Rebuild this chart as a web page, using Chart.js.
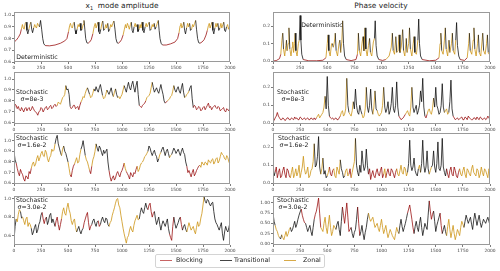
<!DOCTYPE html>
<html><head><meta charset="utf-8">
<script src="https://cdn.jsdelivr.net/npm/chart.js@4/dist/chart.umd.min.js"></script>
<style>
html,body{margin:0;padding:0;background:#fff;}
body{width:500px;height:271px;position:relative;overflow:hidden;font-family:"DejaVu Sans",sans-serif;}
canvas{position:absolute;}
.title{position:absolute;top:1px;font-size:7.4px;color:#222;white-space:nowrap;transform:translateX(-50%);}
.title sub{font-size:5px;}
#legendBox{position:absolute;left:155px;top:254px;width:168px;height:12px;border:1px solid #d4d4d4;border-radius:2px;}
.lgl{position:absolute;top:260px;height:0;border-top:1.2px solid;width:12px;}
.lgt{position:absolute;top:256px;font-size:6.3px;color:#222;white-space:nowrap;line-height:8px;}
</style></head><body>
<div class="title" style="left:122px">x<sub>1</sub>&nbsp; mode amplitude</div>
<div class="title" style="left:381px">Phase velocity</div>
<canvas id="c0"></canvas><canvas id="c1"></canvas>
<canvas id="c2"></canvas><canvas id="c3"></canvas>
<canvas id="c4"></canvas><canvas id="c5"></canvas>
<canvas id="c6"></canvas><canvas id="c7"></canvas>
<div id="legendBox"></div>
<div class="lgl" style="left:160px;border-color:#c86464"></div><div class="lgt" style="left:176px">Blocking</div>
<div class="lgl" style="left:220px;border-color:#444"></div><div class="lgt" style="left:234px">Transitional</div>
<div class="lgl" style="left:284px;border-color:#d8aa48"></div><div class="lgt" style="left:303px">Zonal</div>
<script>
// ---------- DATA ----------
const regimeNames = ['Blocking','Transitional','Zonal'];
const xTicks = [0,250,500,750,1000,1250,1500,1750,2000];

// Deterministic x1 amplitude
const ampDetT = [0,20,40,58,68,78,86,94,104,112,120,128,138,148,156,164,172,182,192,200,208,218,228,236,246,256,266,276,290,330,380,430,470,490,
505,515,523,531,540,550,558,566,574,584,594,603,612,620,630,640,648,656,664,674,686,700,715,
730,742,752,760,770,778,786,794,804,814,822,830,840,850,858,868,876,886,896,905,915,925,935,944,954,966,980,995,
1010,1022,1032,1040,1050,1058,1068,1078,1086,1094,1102,1112,1122,1130,1140,1148,1158,1168,1176,1186,1194,1204,1214,1224,1232,1242,1252,1260,1270,1280,1288,1298,1306,1316,1326,1336,1344,1352,1362,1375,1410,1450,1490,1515,
1528,1538,1546,1554,1564,1572,1580,1588,1598,1608,1616,1626,1634,1644,1654,1662,1672,1682,1690,1700,1710,1722,1740,1760,1778,
1790,1800,1808,1816,1826,1834,1842,1850,1860,1870,1878,1888,1896,1906,1916,1924,1934,1942,1950,1958,1968,1978,1986,1994,2000];
const ampDetV = [.77,.785,.81,.84,.88,.92,.89,.88,.93,.94,.87,.84,.88,.92,.94,.88,.85,.89,.92,.90,.89,.93,.91,.90,.955,.88,.80,.755,.74,.738,.745,.76,.78,.80,
.86,.91,.93,.90,.89,.93,.94,.87,.84,.88,.92,.90,.93,.87,.88,.92,.955,.88,.80,.765,.76,.77,.79,
.84,.90,.93,.89,.92,.94,.86,.84,.88,.93,.95,.87,.88,.92,.89,.93,.86,.88,.92,.90,.93,.95,.88,.80,.765,.76,.77,.79,
.83,.88,.92,.89,.93,.91,.88,.92,.94,.87,.85,.90,.93,.90,.92,.86,.88,.92,.89,.94,.87,.85,.90,.93,.90,.92,.94,.87,.88,.92,.90,.93,.88,.90,.93,.955,.87,.80,.76,.745,.745,.755,.77,.80,
.85,.91,.93,.89,.91,.94,.87,.84,.89,.93,.90,.93,.87,.88,.92,.90,.93,.955,.88,.80,.765,.76,.77,.79,.83,
.87,.91,.93,.89,.92,.94,.87,.84,.89,.93,.90,.93,.87,.89,.93,.89,.92,.94,.87,.86,.90,.92,.88,.90,.93];
const ampDetR = "BBBBZZZZZTTTZZTTTZZZZZZTTTTTBBBBBB"+"ZZZZZZTTTZZZTTZZTTTTBBB"+"ZZZZZTTTZZTTZZZTTZZZZTTTTBBB"+"ZZZZZZZZTTTZZZTTZZZTTTZZZZTTZZZTTZZTTTTBBBBB"+"ZZZZZTTTZZZTTZZZZTTTTBBBB"+"ZZZZZTTTZZZTTZZZZTTTZZZZZ";

// Deterministic phase velocity
const velDetT = [0,30,60,72,82,90,97,108,118,124,130,140,147,155,166,176,182,190,198,204,211,222,234,242,250,257,265,278,330,400,460,
488,500,508,515,527,540,548,556,566,574,582,595,608,616,624,634,642,650,660,675,720,765,
778,787,795,808,822,830,838,848,856,868,880,890,898,910,925,935,942,950,960,975,1010,
1040,1070,1090,1100,1108,1120,1132,1140,1152,1162,1170,1182,1195,1203,1215,1228,1236,1250,1258,1266,1280,1292,1300,1308,1322,1335,1343,1350,1360,1375,1440,1500,
1530,1540,1547,1555,1568,1580,1588,1596,1610,1622,1630,1645,1653,1661,1675,1684,1692,1700,1712,1725,1765,
1790,1803,1810,1818,1832,1845,1852,1860,1872,1885,1893,1901,1915,1926,1933,1941,1955,1968,1976,1984,1993,2000];
const velDetV = [.002,.004,.015,.04,.12,.16,.07,.03,.09,.12,.06,.10,.19,.07,.03,.08,.11,.05,.10,.16,.06,.03,.10,.12,.26,.12,.04,.01,.003,.003,.006,
.02,.10,.15,.06,.03,.10,.10,.08,.11,.16,.06,.03,.10,.12,.05,.11,.23,.10,.03,.01,.004,.01,
.04,.16,.06,.03,.11,.14,.06,.19,.07,.03,.09,.13,.05,.03,.11,.13,.23,.09,.03,.01,.005,
.01,.03,.08,.16,.06,.04,.14,.05,.06,.15,.05,.08,.18,.06,.03,.13,.05,.10,.19,.07,.03,.10,.14,.05,.04,.12,.24,.10,.03,.01,.003,.006,
.02,.10,.16,.06,.04,.12,.19,.07,.03,.12,.05,.10,.16,.06,.04,.12,.22,.09,.03,.01,.005,
.02,.10,.16,.06,.04,.12,.19,.07,.03,.10,.15,.05,.03,.11,.16,.06,.04,.10,.15,.05,.04,.10];
const velDetR = "BBBZZTZZZTZZTZZZZZZTZZZTTTTBBBB"+"ZZTZZZTZZTZZZTZZTTTBBB"+"ZTZZZTZTZZZTZZZTTTTBB"+"ZZZTZZTZZTZZTZZTZZTZZZTZZTTTTBBB"+"ZZTZZZTZZTZZTZZTTTTBB"+"ZZTZZZTZZZTZZZTZZZTZZZ";

// Stochastic runs: main samples and in-between samples
const timeGrid = [0,20,40,60,80,100,120,140,160,180,200,220,240,260,280,300,320,340,360,380,
400,420,440,460,480,500,520,540,560,580,600,620,640,660,680,700,720,740,760,780,
800,820,840,860,880,900,920,940,960,980,1000,1020,1040,1060,1080,1100,1120,1140,1160,1180,
1200,1220,1240,1260,1280,1300,1320,1340,1360,1380,1400,1420,1440,1460,1480,1500,1520,1540,1560,1580,
1600,1620,1640,1660,1680,1700,1720,1740,1760,1780,1800,1820,1840,1860,1880,1900,1920,1940,1960,1980,2000];
const timeMid = [10,30,50,70,90,110,130,150,170,190,210,230,250,270,290,310,330,350,370,390,
410,430,450,470,490,510,530,550,570,590,610,630,650,670,690,710,730,750,770,790,
810,830,850,870,890,910,930,950,970,990,1010,1030,1050,1070,1090,1110,1130,1150,1170,1190,
1210,1230,1250,1270,1290,1310,1330,1350,1370,1390,1410,1430,1450,1470,1490,1510,1530,1550,1570,1590,
1610,1630,1650,1670,1690,1710,1730,1750,1770,1790,1810,1830,1850,1870,1890,1910,1930,1950,1970,1990];

// sigma = 8e-3
const ampS1 = [.70,.76,.75,.71,.72,.73,.71,.74,.72,.73,.70,.67,.71,.73,.72,.75,.73,.76,.74,.77,
.76,.78,.80,.84,.94,.91,.75,.74,.76,.74,.72,.79,.84,.87,.92,.86,.84,.91,.93,.88,
.95,.85,.83,.90,.86,.92,.84,.91,.83,.82,.86,.94,.88,.97,.90,.98,.88,.98,.76,.74,
.77,.80,.84,.87,.97,.88,.92,.87,.95,.86,.78,.80,.82,.85,.94,.88,.93,.87,.96,.83,
.86,.89,.94,.74,.75,.73,.74,.72,.75,.74,.78,.75,.74,.76,.73,.74,.72,.74,.70,.72,.75];
const ampS1Mid = [.77,.73,.72,.74,.70,.74,.73,.71,.75,.71,.69,.70,.74,.70,.74,.72,.75,.73,.76,.75,
.79,.77,.83,.86,.90,.86,.73,.76,.73,.75,.76,.81,.83,.90,.89,.83,.87,.89,.90,.92,
.90,.82,.86,.88,.89,.87,.88,.86,.84,.84,.90,.91,.93,.92,.95,.92,.94,.86,.75,.76,
.78,.83,.85,.92,.92,.90,.89,.91,.90,.80,.79,.81,.84,.89,.90,.91,.89,.92,.88,.84,
.87,.92,.82,.76,.72,.75,.71,.74,.72,.76,.74,.72,.75,.74,.75,.71,.73,.71,.73,.71];
const velS1 = [.02,.03,.06,.03,.02,.025,.02,.03,.02,.025,.035,.03,.02,.03,.025,.02,.03,.02,.025,.03,
.03,.05,.04,.06,.15,.26,.04,.025,.02,.03,.02,.04,.07,.05,.25,.06,.04,.12,.19,.06,
.10,.05,.04,.20,.06,.19,.05,.18,.07,.04,.06,.20,.06,.12,.07,.20,.06,.23,.04,.02,
.03,.05,.07,.04,.20,.06,.10,.07,.18,.25,.04,.05,.08,.05,.14,.20,.08,.06,.22,.06,
.08,.06,.24,.04,.02,.03,.025,.035,.02,.03,.04,.025,.02,.03,.035,.02,.03,.025,.02,.04,.02];
const velS1Mid = [.015,.04,.04,.02,.03,.015,.03,.02,.03,.02,.025,.02,.035,.02,.03,.025,.02,.03,.02,.02,
.04,.03,.05,.09,.08,.10,.03,.03,.025,.02,.03,.06,.04,.08,.10,.05,.07,.08,.10,.05,
.07,.03,.08,.09,.10,.08,.09,.08,.05,.05,.10,.09,.08,.05,.11,.08,.10,.09,.03,.025,
.04,.06,.05,.09,.09,.08,.05,.10,.12,.09,.03,.07,.06,.08,.09,.10,.05,.10,.09,.07,
.05,.12,.08,.03,.025,.02,.03,.02,.035,.02,.03,.02,.03,.02,.025,.035,.02,.03,.025,.03];
const regS1 = "BBBBBBBBBBBBBBBBBBBB"+"ZZZZTTBBBBBZZZTZZTTT"+"TZZTTTZTZZZTTTTTTTBB"+"BZZZTTTTTTBZZZTTTTTZ"+"ZTTBBBBBBBBBBBBBBBBBB";

// sigma = 1.6e-2
const ampS2 = [.90,.79,.70,.73,.68,.62,.66,.71,.74,.80,.78,.86,.84,.90,.85,.89,.80,.86,.90,.97,
1.05,.93,.86,.95,.88,.80,.68,.72,.78,.84,.80,.92,1.00,.86,.80,.72,.76,.85,.97,.90,
.93,.86,.88,.92,.72,.62,.67,.65,.71,.66,.72,.79,.71,.67,.70,.66,.69,.76,.73,.79,
.82,.86,.90,.93,.86,.91,.85,.83,.89,.94,.86,.92,.84,.87,.93,.88,.92,.86,.93,.87,
.76,.72,.66,.73,.69,.74,.77,.80,.77,.79,.82,.79,.83,.80,.84,.81,.89,.86,.82,.84,.78];
const ampS2Mid = [.82,.74,.67,.70,.64,.67,.64,.69,.78,.76,.83,.81,.88,.86,.91,.83,.84,.92,.91,1.02,
.97,.89,.92,.90,.84,.74,.66,.76,.81,.79,.87,.95,.93,.82,.76,.69,.82,.90,.93,.95,
.89,.91,.90,.80,.66,.65,.63,.69,.68,.70,.75,.74,.69,.64,.68,.70,.73,.71,.77,.80,
.85,.88,.95,.89,.89,.87,.80,.87,.92,.90,.90,.88,.86,.90,.91,.90,.89,.90,.89,.80,
.70,.69,.70,.67,.72,.76,.75,.78,.80,.77,.80,.82,.78,.83,.79,.85,.87,.83,.86,.80];
const velS2 = [.12,.06,.03,.08,.04,.09,.03,.07,.03,.09,.05,.04,.10,.06,.15,.05,.09,.04,.08,.22,
.10,.26,.05,.14,.07,.04,.09,.04,.08,.03,.07,.13,.06,.04,.08,.05,.03,.09,.25,.06,
.10,.18,.07,.19,.05,.02,.07,.03,.08,.04,.09,.05,.03,.08,.04,.07,.03,.08,.04,.10,
.05,.08,.06,.24,.07,.14,.05,.08,.06,.24,.06,.18,.05,.09,.18,.06,.23,.07,.25,.06,
.08,.03,.09,.04,.07,.03,.08,.04,.09,.03,.07,.04,.10,.05,.08,.03,.09,.04,.07,.03,.06];
const velS2Mid = [.04,.09,.06,.03,.07,.05,.08,.04,.06,.03,.08,.06,.03,.09,.08,.06,.03,.07,.12,.09,
.15,.09,.08,.05,.03,.06,.05,.07,.04,.09,.05,.08,.03,.07,.04,.08,.06,.12,.10,.04,
.06,.11,.09,.10,.08,.05,.04,.06,.05,.07,.03,.08,.06,.05,.08,.05,.06,.05,.07,.06,
.09,.04,.11,.10,.09,.07,.04,.10,.11,.10,.09,.08,.07,.10,.09,.11,.08,.10,.09,.04,
.05,.07,.05,.09,.04,.06,.05,.07,.05,.08,.05,.08,.06,.04,.07,.05,.06,.08,.05,.08];
const regS2 = "TBBBBBBBZZZZZZZZZZZT"+"TTZTTZBBZZZTTZZBZZTT"+"TTTTBBBBBBBZBBBBBZZZ"+"ZZTTTTTZTTTTZTTTTTTT"+"BBBBBBZZZZZZZZZZZZZZZ";

// sigma = 3.0e-2
const ampS3 = [.55,.78,.83,.86,.80,.72,.80,.74,.68,.64,.72,.66,.75,.85,.73,.80,.76,.84,.78,.70,
.80,.66,.78,.90,.82,.95,.84,.72,.78,.64,.70,.62,.68,.78,.85,.66,.72,.78,.70,.76,
.72,.80,.74,.78,.70,.76,.86,.95,1.00,.90,.75,.62,.52,.60,.70,.64,.76,.82,.78,.90,
.84,.95,.88,.95,.80,.86,.72,.80,.66,.76,.70,.78,.62,.55,.80,.68,.74,.80,.66,.72,
.64,.74,.66,.70,.62,.75,.72,.84,1.02,.95,.98,.92,.96,.78,.72,.66,.74,.55,.70,.64,.74];
const ampS3Mid = [.70,.75,.88,.79,.76,.78,.70,.72,.61,.69,.63,.72,.82,.78,.78,.72,.82,.74,.74,.76,
.72,.72,.86,.84,.90,.88,.76,.76,.69,.67,.65,.66,.74,.82,.74,.70,.76,.73,.75,.70,
.77,.76,.79,.72,.74,.82,.90,.99,.93,.82,.68,.57,.58,.66,.66,.71,.79,.77,.85,.86,
.90,.90,.93,.86,.84,.78,.76,.72,.72,.73,.74,.68,.58,.70,.73,.71,.78,.72,.70,.67,
.69,.70,.68,.65,.69,.70,.79,.93,.97,.99,.94,.95,.86,.74,.69,.70,.62,.64,.66,.69];
const velS3 = [.75,.45,.30,.15,.22,.10,.30,.25,.40,.35,.55,.48,.70,.85,.60,.50,.30,.45,.20,.60,
.80,1.12,.40,.30,.65,.25,.70,.20,.45,.35,.55,.20,.90,.50,1.00,.30,.40,.15,.35,.90,
.20,.45,.10,.40,.75,.55,.65,.40,.50,.30,.60,.25,.45,.15,.35,.20,.10,.40,.25,.60,
.30,.50,.75,.95,.60,.25,.55,.30,.65,.20,.50,.35,1.05,.60,.80,.30,.55,.75,.25,.45,
.20,.60,.15,.45,.10,.35,.20,.55,.40,.70,.50,.65,.35,.75,.45,.70,.40,.60,.50,.65,.45];
const velS3Mid = [.55,.35,.20,.12,.15,.20,.18,.35,.30,.45,.40,.60,.78,.70,.52,.40,.38,.30,.40,.72,
.95,.75,.35,.50,.40,.48,.40,.30,.40,.48,.35,.55,.70,.75,.65,.35,.25,.28,.60,.50,
.30,.25,.28,.60,.62,.60,.52,.45,.38,.45,.40,.35,.28,.25,.28,.15,.25,.30,.45,.42,
.40,.62,.85,.78,.40,.42,.40,.50,.40,.35,.42,.70,.80,.72,.55,.45,.65,.45,.35,.30,
.42,.35,.30,.25,.22,.28,.40,.48,.55,.60,.58,.48,.58,.60,.58,.52,.50,.55,.58,.55];
const regS3 = "TZZTZZZZTTTTTBBTTTTB"+"BBZZZZZZZTTTBBBBTTTB"+"TTTTZZZZZZZZZZZZZZTT"+"TTBBBTTTTTTTBBTTTBTT"+"ZZZZZZZZTTTTTTTTTTTTT";

// ---------- DRAWING ----------
const regimeColor = {B:'rgba(150,8,8,0.85)', T:'rgba(10,10,10,0.85)', Z:'rgba(205,150,25,0.9)'};

function series(t, v, r, tm, vm){
  const regs = r.split('');
  const pts = [], rr = [];
  t.forEach((x,i)=>{
    pts.push({x:x, y:v[i]}); rr.push(regs[i]);
    if (tm && i < tm.length){ pts.push({x:tm[i], y:vm[i]}); rr.push(regs[i]); }
  });
  return {pts, rr};
}

const framePlugin = {
  id:'frame',
  afterDraw(chart){
    const a = chart.chartArea, c = chart.ctx;
    c.save(); c.strokeStyle = '#9a9a9a'; c.lineWidth = 1;
    c.strokeRect(Math.round(a.left)+0.5, Math.round(a.top)+0.5, Math.round(a.right-a.left)-1, Math.round(a.bottom-a.top)-1);
    c.restore();
    const p = chart.options.plugins.note;
    if (p && p.lines){
      c.save(); c.font = '6.2px "DejaVu Sans"'; c.fillStyle = '#222';
      c.textAlign = 'center'; c.textBaseline = 'middle';
      p.lines.forEach((s,i)=> c.fillText(s, p.cx, p.cy + i*7));
      c.restore();
    }
  }
};

const layouts = [
  {id:'c0', s:series(ampDetT, ampDetV, ampDetR), left:0, top:8, w:237, h:64, yw:14, min:0.6, max:1.027, step:0.1, dec:1, note:['Deterministic'], nx:37, ny:57},
  {id:'c1', s:series(velDetT, velDetV, velDetR), left:250, top:8, w:247, h:64, yw:23, min:-0.004, max:0.28, step:0.1, dec:1, note:['Deterministic'], nx:322, ny:25},
  {id:'c2', s:series(timeGrid, ampS1, regS1, timeMid, ampS1Mid), left:0, top:68, w:237, h:66, yw:14, min:0.59, max:1.064, step:0.1, dec:1, note:['Stochastic','\u03c3=8e-3'], nx:32, ny:92},
  {id:'c3', s:series(timeGrid, velS1, regS1, timeMid, velS1Mid), left:250, top:68, w:247, h:66, yw:23, min:-0.004, max:0.285, step:0.1, dec:1, note:['Stochastic','\u03c3=8e-3'], nx:293, ny:92},
  {id:'c4', s:series(timeGrid, ampS2, regS2, timeMid, ampS2Mid), left:0, top:129, w:237, h:65, yw:14, min:0.593, max:1.072, step:0.1, dec:1, note:['Stochastic','\u03c3=1.6e-2'], nx:32, ny:138},
  {id:'c5', s:series(timeGrid, velS2, regS2, timeMid, velS2Mid), left:250, top:129, w:247, h:65, yw:23, min:-0.005, max:0.28, step:0.1, dec:1, note:['Stochastic','\u03c3=1.6e-2'], nx:294, ny:138},
  {id:'c6', s:series(timeGrid, ampS3, regS3, timeMid, ampS3Mid), left:0, top:192, w:237, h:63, yw:14, min:0.5, max:1.027, step:0.2, dec:1, note:['Stochastic','\u03c3=3.0e-2'], nx:32, ny:200},
  {id:'c7', s:series(timeGrid, velS3, regS3, timeMid, velS3Mid), left:250, top:192, w:247, h:63, yw:23, min:-0.03, max:1.17, step:0.25, dec:2, note:['Stochastic','\u03c3=3.0e-2'], nx:293, ny:200}
];

layouts.forEach(p=>{
  const cv = document.getElementById(p.id);
  cv.width = p.w; cv.height = p.h;
  cv.style.left = p.left+'px'; cv.style.top = p.top+'px';
  cv.style.width = p.w+'px'; cv.style.height = p.h+'px';
  const rr = p.s.rr;
  new Chart(cv, {
    type:'line',
    data:{datasets:[{
      data:p.s.pts, borderWidth:0.9, pointRadius:0, tension:0, fill:false,
      borderColor: regimeColor[rr[0]],
      segment:{borderColor: ctx => regimeColor[rr[ctx.p0DataIndex]]}
    }]},
    options:{
      animation:false, responsive:false, devicePixelRatio:1,
      layout:{padding:{top:4, right:7, left:0, bottom:0}},
      plugins:{legend:{display:false}, tooltip:{enabled:false},
        note:{lines:p.note, cx:p.nx - p.left, cy:p.ny - p.top}},
      scales:{
        x:{type:'linear', min:0, max:2000,
          afterBuildTicks: s => { s.ticks = xTicks.map(v=>({value:v})); },
          ticks:{font:{size:4.4, family:'DejaVu Sans'}, color:'#444', padding:1, maxRotation:0, autoSkip:false,
            callback: v => String(v)},
          grid:{display:true, drawOnChartArea:false, drawTicks:true, tickLength:2, color:'#444', lineWidth:0.7},
          border:{display:false},
          afterFit: s => { s.height = 10; }
        },
        y:{type:'linear', min:p.min, max:p.max,
          ticks:{stepSize:p.step, includeBounds:false, font:{size:4.4, family:'DejaVu Sans'}, color:'#444', padding:1,
            callback: v => Number(v).toFixed(p.dec)},
          grid:{display:true, drawOnChartArea:false, drawTicks:true, tickLength:2, color:'#444', lineWidth:0.7},
          border:{display:false},
          afterFit: s => { s.width = p.yw; }
        }
      }
    },
    plugins:[framePlugin]
  });
});
</script>
</body></html>
